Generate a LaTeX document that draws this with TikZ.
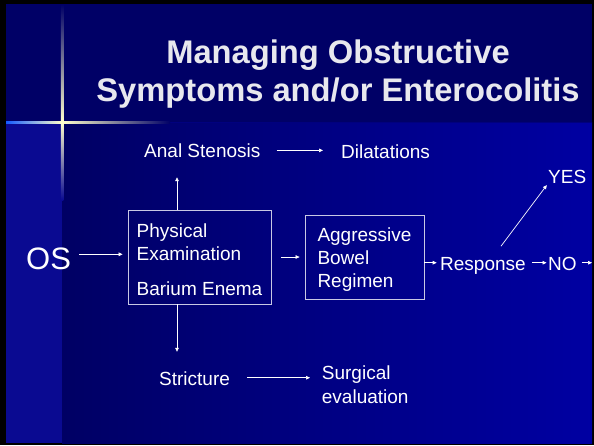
\documentclass[tikz,border=0pt]{standalone}
\usepackage{fontspec}
\setmainfont{Liberation Sans}
\usetikzlibrary{arrows.meta}
\definecolor{titlebg}{RGB}{0,0,102}
\definecolor{bodyleft}{RGB}{0,0,100}
\definecolor{bodyright}{RGB}{0,0,162}
\definecolor{stripbg}{RGB}{10,10,145}
\definecolor{glow}{RGB}{20,90,255}
\definecolor{starlight}{RGB}{255,255,205}
\definecolor{titletext}{RGB}{232,232,238}
\definecolor{boxline}{RGB}{200,200,228}
\newcommand{\topgap}{\rule{0pt}{19pt}}

\begin{document}
\begin{tikzpicture}[x=1pt, y=-1pt,
  lbl/.style={inner sep=0pt, text=white, font=\fontsize{19}{23.3}\selectfont, text height=14.6pt, text depth=0pt},
  big/.style={inner sep=0pt, text=white, font=\fontsize{31}{36}\selectfont, text height=30pt, text depth=0pt},
  two/.style={inner sep=0pt, text=white, font=\fontsize{19}{23.3}\selectfont, align=left},
  box/.style={draw=boxline, line width=0.8pt, text=white, font=\fontsize{19}{23.3}\selectfont, align=left},
  ttl/.style={inner sep=0pt, text=titletext, font=\fontsize{32.7}{38}\selectfont\bfseries},
  arr/.style={draw=white, line width=0.7pt, -{Triangle[length=4pt,width=3.6pt]}}]

% slide background
\useasboundingbox (0,0) rectangle (594,445);
\fill[black] (0,0) rectangle (594,445);
\fill[titlebg] (6,4) rectangle (592,122);
\shade[left color=bodyleft, right color=bodyright] (62,122) rectangle (592,443);
\fill[stripbg] (6,122) rectangle (62,443);
\fill[titlebg!60!bodyright] (62,121.5) rectangle (592,123);

% glow cross
\shade[left color=glow, middle color=glow, right color=starlight] (6,121) rectangle (62,123.6);
\shade[left color=starlight, middle color=glow, right color=titlebg] (62,121) rectangle (170,123.6);
\shade[top color=titlebg, middle color=glow!35!titlebg, bottom color=starlight] (60.8,4) rectangle (63.4,122);
\shade[top color=starlight, middle color=glow, bottom color=stripbg] (60.8,122) rectangle (63.4,200);

% title
\node[ttl, anchor=base] (ttla) at (338,63) {Managing Obstructive};
\node[ttl, anchor=base] (ttlb) at (338,101) {Symptoms and/or Enterocolitis};

% chart
\node[big, anchor=base west] (os) at (26,269.3) {OS};
\node[box, minimum width=143pt, minimum height=94pt] (exam) at (199.5,257) {\topgap Physical\\Examination\\[11.7pt]Barium Enema};
\node[box, minimum width=119pt, minimum height=84pt] (bowel) at (364.5,257) {\topgap Aggressive\\Bowel\\Regimen};
\node[lbl, anchor=base west] (anal) at (144,157.7) {Anal Stenosis};
\node[lbl, anchor=base west] (dilat) at (341,158) {Dilatations};
\node[lbl, anchor=base west] (strict) at (159,385) {Stricture};
\node[two, anchor=north west] (surg) at (321.7,366) {Surgical\\evaluation};
\node[lbl, anchor=base west] (resp) at (440,270) {Response};
\node[lbl, anchor=base west] (yes) at (548,183.3) {YES};
\node[lbl, anchor=base west] (no) at (548,270) {NO};
\coordinate (out) at (592,262.7);

\draw[arr, shorten <=8pt, shorten >=5pt] (os.east) -- (os.east -| exam.west);
\draw[arr, shorten >=19.3pt] ([xshift=-22.5pt]exam.north) -- ([xshift=-22.5pt]exam.north |- anal.south);
\draw[arr, shorten >=18.4pt] ([xshift=-22.5pt]exam.south) -- ([xshift=-22.5pt]exam.south |- strict.north);
\draw[arr, shorten <=16pt, shorten >=18pt] (anal.east) -- (anal.east -| dilat.west);
\draw[arr, shorten <=17pt, shorten >=11.7pt] (strict.east) -- (strict.east -| surg.west);
\draw[arr, shorten <=10pt, shorten >=5pt] (exam.east) -- (bowel.west);
\draw[arr, shorten >=3.3pt] (bowel.east |- resp.west) -- (resp.west);
\draw[arr, shorten <=6.5pt, shorten >=1.5pt] (resp.east) -- (no.west);
\draw[arr, shorten <=5pt] (no.east) -- (out);
\draw[arr, shorten >=2pt] ([xshift=18pt,yshift=9pt]resp.north) -- (yes.south west);
\end{tikzpicture}
\end{document}
